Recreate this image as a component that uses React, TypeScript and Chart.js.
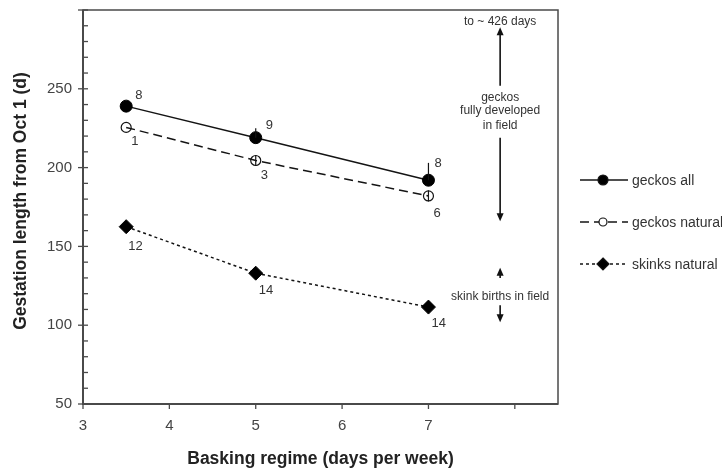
import React, { useEffect, useRef } from 'react';
import { Chart, registerables } from 'chart.js';

Chart.register(...registerables);

const FONT = '"Liberation Sans", Arial, Helvetica, sans-serif';

// Data
const xValues = [3.5, 5, 7];
const geckosAll = [239, 219, 192];
const geckosNatural = [225.5, 204.5, 182];
const skinksNatural = [162.5, 133, 111.5];
const geckosAllErrUp = [0, 6, 11];
const geckosNaturalErr = [0, 3.5, 3.5];
const nGeckosAll = ['8', '9', '8'];
const nGeckosNatural = ['1', '3', '6'];
const nSkinksNatural = ['12', '14', '14'];
const seriesNames = ['geckos all', 'geckos natural', 'skinks natural'];
const xTickValues = [3, 4, 5, 6, 7, 8];
const xTickLabels = ['3', '4', '5', '6', '7', ''];
const yTickLabels = ['50', '100', '150', '200', '250', ''];
const xTitle = 'Basking regime (days per week)';
const yTitle = 'Gestation length from Oct 1 (d)';
const annotX = 7.83;
const annotTopText = 'to ~ 426 days';
const annotGeckoText = ['geckos', 'fully developed', 'in field'];
const annotSkinkText = 'skink births in field';

const LINE = '#141414';
const TEXT = '#333333';

function drawMarker(ctx: CanvasRenderingContext2D, style: string, x: number, y: number, r: number, fill: string) {
  ctx.save();
  ctx.beginPath();
  if (style === 'rectRot') {
    ctx.moveTo(x, y - r);
    ctx.lineTo(x + r, y);
    ctx.lineTo(x, y + r);
    ctx.lineTo(x - r, y);
    ctx.closePath();
  } else {
    ctx.arc(x, y, r, 0, Math.PI * 2);
  }
  ctx.fillStyle = fill;
  ctx.fill();
  ctx.strokeStyle = LINE;
  ctx.lineWidth = 1.2;
  ctx.stroke();
  ctx.restore();
}

function arrow(ctx: CanvasRenderingContext2D, x: number, y1: number, y2: number) {
  const dir = y2 > y1 ? 1 : -1;
  ctx.save();
  ctx.strokeStyle = '#111';
  ctx.fillStyle = '#111';
  ctx.lineWidth = 1.6;
  ctx.beginPath();
  ctx.moveTo(x, y1);
  ctx.lineTo(x, y2 - dir * 6);
  ctx.stroke();
  ctx.beginPath();
  ctx.moveTo(x, y2);
  ctx.lineTo(x - 3.5, y2 - dir * 8);
  ctx.lineTo(x + 3.5, y2 - dir * 8);
  ctx.closePath();
  ctx.fill();
  ctx.restore();
}

const decorPlugin = {
  id: 'decor',
  beforeDatasetsDraw(chart: any) {
    const { ctx, chartArea } = chart;
    const xs = chart.scales.x;
    const ys = chart.scales.y;
    ctx.save();
    ctx.strokeStyle = '#4a4a4a';
    ctx.lineWidth = 1.5;
    ctx.strokeRect(chartArea.left, chartArea.top, chartArea.right - chartArea.left, chartArea.bottom - chartArea.top);
    ctx.lineWidth = 2;
    ctx.beginPath();
    ctx.moveTo(chartArea.left, chartArea.top);
    ctx.lineTo(chartArea.left, chartArea.bottom);
    ctx.lineTo(chartArea.right, chartArea.bottom);
    ctx.stroke();
    ctx.lineWidth = 1.3;
    for (let v = 50; v <= 300; v += 10) {
      const py = ys.getPixelForValue(v);
      ctx.beginPath();
      if (v % 50 === 0) {
        ctx.moveTo(chartArea.left - 5, py);
        ctx.lineTo(chartArea.left + 5, py);
      } else {
        ctx.moveTo(chartArea.left, py);
        ctx.lineTo(chartArea.left + 5, py);
      }
      ctx.stroke();
    }
    for (const v of xTickValues) {
      const px = xs.getPixelForValue(v);
      ctx.beginPath();
      ctx.moveTo(px, chartArea.bottom);
      ctx.lineTo(px, chartArea.bottom + 5);
      ctx.stroke();
    }
    ctx.restore();
  },
  afterDatasetsDraw(chart: any) {
    const { ctx, chartArea } = chart;
    const xs = chart.scales.x;
    const ys = chart.scales.y;
    ctx.save();
    ctx.strokeStyle = LINE;
    ctx.lineWidth = 1.2;
    xValues.forEach((xv, i) => {
      const px = xs.getPixelForValue(xv);
      if (geckosAllErrUp[i] > 0) {
        ctx.beginPath();
        ctx.moveTo(px, ys.getPixelForValue(geckosAll[i]));
        ctx.lineTo(px, ys.getPixelForValue(geckosAll[i] + geckosAllErrUp[i]));
        ctx.stroke();
      }
      if (geckosNaturalErr[i] > 0) {
        ctx.beginPath();
        ctx.moveTo(px, ys.getPixelForValue(geckosNatural[i] - geckosNaturalErr[i]));
        ctx.lineTo(px, ys.getPixelForValue(geckosNatural[i] + geckosNaturalErr[i]));
        ctx.stroke();
      }
    });
    ctx.fillStyle = TEXT;
    ctx.font = `13px ${FONT}`;
    ctx.textAlign = 'left';
    ctx.textBaseline = 'middle';
    const offA = [[9, -11], [10, -12], [6, -17]];
    const offN = [[5, 14], [5, 15], [5, 17]];
    const offS = [[2, 20], [3, 17], [3, 16]];
    xValues.forEach((xv, i) => {
      const px = xs.getPixelForValue(xv);
      ctx.fillText(nGeckosAll[i], px + offA[i][0], ys.getPixelForValue(geckosAll[i]) + offA[i][1]);
      ctx.fillText(nGeckosNatural[i], px + offN[i][0], ys.getPixelForValue(geckosNatural[i]) + offN[i][1]);
      ctx.fillText(nSkinksNatural[i], px + offS[i][0], ys.getPixelForValue(skinksNatural[i]) + offS[i][1]);
    });
    const ax = xs.getPixelForValue(annotX);
    ctx.font = `12px ${FONT}`;
    ctx.textAlign = 'center';
    ctx.fillText(annotTopText, ax, ys.getPixelForValue(292.5));
    arrow(ctx, ax, ys.getPixelForValue(252), ys.getPixelForValue(289));
    const gy = [244.3, 236, 226.5];
    annotGeckoText.forEach((t, i) => ctx.fillText(t, ax, ys.getPixelForValue(gy[i])));
    arrow(ctx, ax, ys.getPixelForValue(219), ys.getPixelForValue(166));
    arrow(ctx, ax, ys.getPixelForValue(130), ys.getPixelForValue(136.5));
    ctx.fillText(annotSkinkText, ax, ys.getPixelForValue(118.4));
    arrow(ctx, ax, ys.getPixelForValue(112.7), ys.getPixelForValue(101.8));

    ctx.fillStyle = '#222';
    ctx.font = `bold 17.5px ${FONT}`;
    ctx.textAlign = 'center';
    ctx.fillText(xTitle, (chartArea.left + chartArea.right) / 2, 459);
    ctx.save();
    ctx.translate(21, 201);
    ctx.rotate(-Math.PI / 2);
    ctx.fillText(yTitle, 0, 0);
    ctx.restore();

    const lx1 = 580, lx2 = 628, mx = 603, tx = 632;
    const ly = [180, 222, 264];
    chart.data.datasets.forEach((ds: any, i: number) => {
      ctx.save();
      ctx.strokeStyle = LINE;
      ctx.lineWidth = 1.5;
      ctx.setLineDash(ds.borderDash || []);
      ctx.beginPath();
      ctx.moveTo(lx1, ly[i]);
      ctx.lineTo(lx2, ly[i]);
      ctx.stroke();
      ctx.restore();
      drawMarker(ctx, ds.pointStyle, mx, ly[i], ds.pointRadius - 1, ds.pointBackgroundColor === 'rgba(0,0,0,0)' ? '#fff' : ds.pointBackgroundColor);
      ctx.fillStyle = TEXT;
      ctx.font = `14px ${FONT}`;
      ctx.textAlign = 'left';
      ctx.textBaseline = 'middle';
      ctx.fillText(seriesNames[i], tx, ly[i] + 1);
    });
    ctx.restore();
  },
};

export default function App() {
  const ref = useRef<HTMLCanvasElement | null>(null);
  useEffect(() => {
    document.body.style.margin = '0';
    if (!ref.current) return;
    const mk = (ys: number[]) => xValues.map((x, i) => ({ x, y: ys[i] }));
    const chart = new Chart(ref.current, {
      type: 'scatter',
      data: {
        datasets: [
          {
            label: seriesNames[0],
            data: mk(geckosAll),
            showLine: true,
            borderColor: LINE,
            borderWidth: 1.5,
            pointStyle: 'circle',
            pointRadius: 6,
            pointBackgroundColor: '#000',
            pointBorderColor: '#000',
            pointBorderWidth: 1,
          },
          {
            label: seriesNames[1],
            data: mk(geckosNatural),
            showLine: true,
            borderColor: LINE,
            borderWidth: 1.5,
            borderDash: [9, 5],
            pointStyle: 'circle',
            pointRadius: 5,
            pointBackgroundColor: 'rgba(0,0,0,0)',
            pointBorderColor: LINE,
            pointBorderWidth: 1.2,
          },
          {
            label: seriesNames[2],
            data: mk(skinksNatural),
            showLine: true,
            borderColor: LINE,
            borderWidth: 1.5,
            borderDash: [3, 3],
            pointStyle: 'rectRot',
            pointRadius: 7,
            pointBackgroundColor: '#000',
            pointBorderColor: '#000',
            pointBorderWidth: 1,
          },
        ] as any,
      },
      options: {
        animation: false,
        responsive: false,
        devicePixelRatio: 1,
        layout: { padding: { left: 0, top: 10, right: 164, bottom: 0 } },
        plugins: { legend: { display: false }, tooltip: { enabled: false } },
        scales: {
          x: {
            type: 'linear',
            min: 3,
            max: 8.5,
            grid: { display: false, drawTicks: false },
            border: { display: false },
            afterBuildTicks: (s: any) => {
              s.ticks = xTickValues.map((v) => ({ value: v }));
            },
            afterFit: (s: any) => {
              s.height = 67;
              s.paddingLeft = 0;
              s.paddingRight = 0;
            },
            ticks: {
              padding: 13,
              color: '#444',
              font: { family: FONT, size: 15 },
              callback: (v: any) => xTickLabels[xTickValues.indexOf(Number(v))] ?? '',
            },
          },
          y: {
            type: 'linear',
            min: 50,
            max: 300,
            grid: { display: false, drawTicks: false },
            border: { display: false },
            afterFit: (s: any) => {
              s.width = 83;
              s.paddingTop = 0;
              s.paddingBottom = 0;
            },
            ticks: {
              stepSize: 50,
              padding: 11,
              color: '#444',
              font: { family: FONT, size: 15 },
              callback: (v: any) => yTickLabels[(Number(v) - 50) / 50] ?? '',
            },
          },
        },
      },
      plugins: [decorPlugin],
    });
    return () => chart.destroy();
  }, []);
  return (
    <div style={{ width: 722, height: 471, background: '#fff' }}>
      <canvas ref={ref} width={722} height={471} style={{ width: 722, height: 471, display: 'block' }} />
    </div>
  );
}
